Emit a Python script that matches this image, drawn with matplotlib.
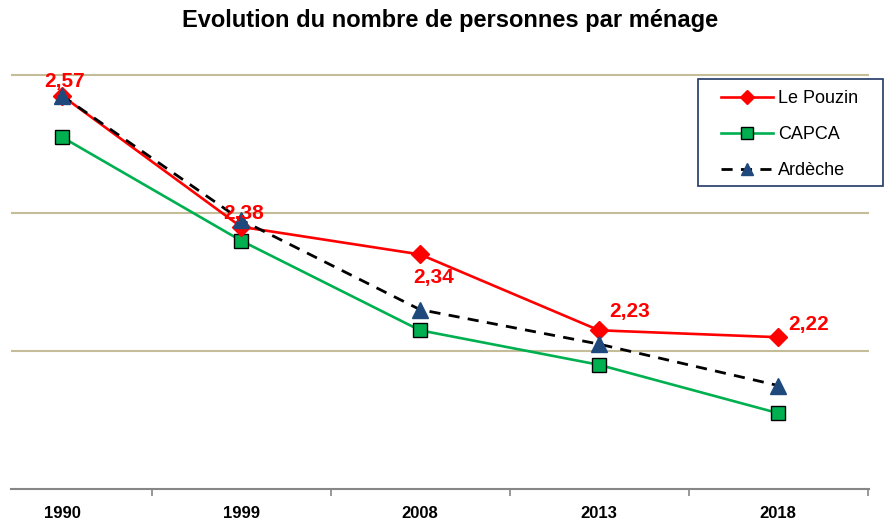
import matplotlib.pyplot as plt
import matplotlib.font_manager as fm
from matplotlib.patches import Rectangle

years = ['1990', '1999', '2008', '2013', '2018']
le_pouzin = [2.57, 2.38, 2.34, 2.23, 2.22]
capca = [2.51, 2.36, 2.23, 2.18, 2.11]
ardeche = [2.57, 2.39, 2.26, 2.21, 2.15]
labels_pouzin = ['2,57', '2,38', '2,34', '2,23', '2,22']
label_offsets = [(2, 10), (2, 9.5), (10, -16.5), (22, 13.5), (22, 9)]

names = {f.name for f in fm.fontManager.ttflist}
narrow = 'Liberation Sans Narrow' if 'Liberation Sans Narrow' in names else 'Liberation Sans'

# 690 px per unit, y=2.0 at 489 px
ytop = 2.61
top_px = 489 - (ytop - 2.0) * 690
fig = plt.figure(figsize=(8.89, 5.23), dpi=100)
ax = fig.add_axes([11/889, 1 - 489/523, (869 - 11)/889, (489 - top_px)/523])

x = list(range(len(years)))
ax.plot(x, le_pouzin, color='#FF0000', lw=1.9, marker='D', ms=9,
        mfc='#FF0000', mec='#FF0000', label='Le Pouzin', zorder=4)
ax.plot(x, capca, color='#00B050', lw=1.9, marker='s', ms=10.5,
        mfc='#00B050', mec='black', mew=1.0, label='CAPCA', zorder=3)
ax.plot(x, ardeche, color='black', lw=2.0, ls=(0, (4, 3)), marker='^', ms=11,
        mfc='#1F497D', mec='#1F497D', label='Ardèche', zorder=5)

for xi, yi, t, off in zip(x, le_pouzin, labels_pouzin, label_offsets):
    ax.annotate(t, (xi, yi), xytext=off, textcoords='offset points',
                ha='center', va='center', color='#FF0000', fontsize=15,
                fontweight='bold', family='Liberation Sans', zorder=6)

ax.set_xlim(-51/179, 807/179)
ax.set_ylim(2.0, ytop)
ax.set_yticks([2.2, 2.4, 2.6])
ax.yaxis.grid(True, color='#C4BD97', lw=1.5)
ax.set_axisbelow(True)
ax.tick_params(axis='y', left=False, labelleft=False)
for s in ['top', 'right', 'left']:
    ax.spines[s].set_visible(False)
ax.spines['bottom'].set_color('#868686')
ax.spines['bottom'].set_linewidth(1.5)

ax.set_xticks(x)
ax.set_xticklabels(years, family=narrow, fontsize=12, fontweight='bold')
ax.tick_params(axis='x', length=0, pad=12)
ax.set_xticks([i + 0.5 for i in x], minor=True)
ax.tick_params(axis='x', which='minor', length=5, color='#868686', width=1.2, direction='out')

fig.text(450/889, 1 - 20/523, 'Evolution du nombre de personnes par ménage',
         ha='center', va='center', fontsize=17, fontweight='bold', family='Liberation Sans')

# legend without its own frame, boxed by a separate rectangle
leg = ax.legend(loc='upper left', bbox_to_anchor=(721/889, 1 - 90/523),
                bbox_transform=fig.transFigure, frameon=False,
                prop={'family': narrow, 'size': 13}, handlelength=2.9,
                labelspacing=1.05, borderpad=0, handletextpad=0.25,
                borderaxespad=0, markerscale=0.8)
fig.patches.append(Rectangle((698/889, 1 - 186/523), (883 - 698)/889, (186 - 79)/523,
                             transform=fig.transFigure, fill=False,
                             edgecolor='#1F3864', lw=1.2))

fig.savefig('out.png', dpi=100)
